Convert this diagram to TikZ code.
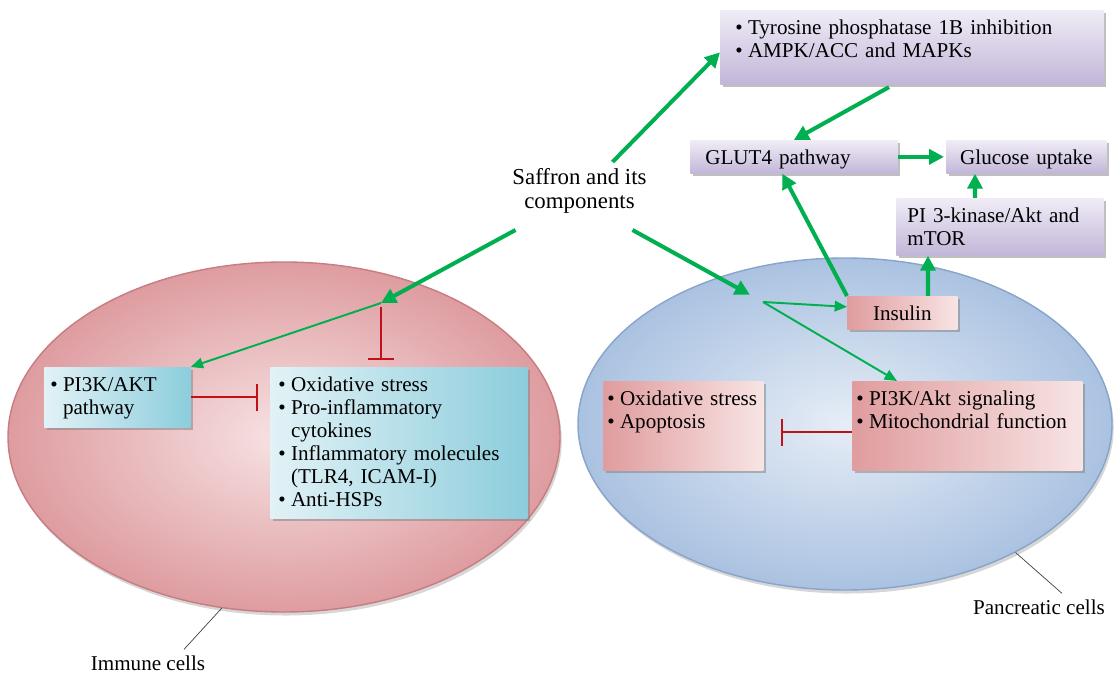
\documentclass[tikz,border=0pt]{standalone}
\usepackage{fontspec}
\setmainfont{Liberation Serif}
\usepackage{tikz}
\usetikzlibrary{arrows.meta,shapes.geometric,shadows}

\definecolor{sgreen}{RGB}{0,176,80}
\definecolor{ired}{RGB}{192,16,24}
\definecolor{purpL}{RGB}{240,236,246}
\definecolor{purpD}{RGB}{194,182,216}
\definecolor{pinkL}{RGB}{248,228,228}
\definecolor{pinkD}{RGB}{224,156,158}
\definecolor{cyanL}{RGB}{226,242,246}
\definecolor{cyanD}{RGB}{140,205,220}
\definecolor{redIn}{RGB}{247,226,227}
\definecolor{redOut}{RGB}{222,156,160}
\definecolor{redRim}{RGB}{200,124,128}
\definecolor{bluIn}{RGB}{230,237,246}
\definecolor{bluOut}{RGB}{170,194,225}
\definecolor{bluRim}{RGB}{136,164,202}

\newcommand{\bul}{\textbullet\hspace{3pt}}
\newcommand{\bulind}{\phantom{\textbullet\hspace{3pt}}}

\begin{document}
\begin{tikzpicture}[
    box/.style={rectangle, anchor=north west, inner ysep=0.17cm, text height=0.32cm, align=left,
        drop shadow={shadow xshift=1.5pt, shadow yshift=-1.5pt, fill=black!50, opacity=0.5}},
    purplebox/.style={box, top color=purpL, bottom color=purpD},
    pinkbox/.style={box, left color=pinkD, right color=pinkL},
    cyanbox/.style={box, left color=cyanL, right color=cyanD},
    cell/.style={ellipse, inner sep=0pt, line width=0.8pt,
        drop shadow={shadow xshift=1pt, shadow yshift=-2pt, fill=black!40, opacity=0.4}},
    gthick/.style={draw=sgreen, line width=2.3pt, -{Triangle[length=8.5pt,width=8.5pt]}},
    gthin/.style={draw=sgreen, line width=1.1pt, -{Triangle[length=7pt,width=6pt]}},
    stopbar/.style={draw=ired, line width=1.2pt, -{Bar[width=15pt]}},
    tag/.style={draw=black!75, line width=0.4pt},
    font=\fontsize{12}{13}\selectfont
]
\useasboundingbox (0,0) rectangle (22.3,13.5);

% cells
\node[cell, draw=redRim, inner color=redIn, outer color=redOut,
    minimum width=11.04cm, minimum height=7cm] (immcell) at (5.68,4.76) {};
\node[cell, draw=bluRim, inner color=bluIn, outer color=bluOut,
    minimum width=10.68cm, minimum height=6.64cm] (pancell) at (16.9,5.02) {};

\node (imm) at (2.96,0.24) {Immune cells};
\node (pan) at (20.78,1.36) {Pancreatic cells};
\draw[tag] (immcell.-110) -- ([xshift=0.72cm]imm.north);
\draw[tag] (pancell.-37) -- ([xshift=0.46cm]pan.north);

\node[align=center, font=\fontsize{13}{13.5}\selectfont] (saf) at (11.59,9.68) {Saffron and its\\components};

% top right
\node[purplebox, inner xsep=0.3cm, text width=7.06cm, text depth=0.82cm] (tyro) at (14.40,13.30)
    {\bul Tyrosine phosphatase 1B inhibition\\\bul AMPK/ACC and MAPKs};
\node[purplebox, inner xsep=0.3cm, text width=3.54cm, text depth=0cm] (glut) at (13.80,10.70) {GLUT4 pathway};
\node[purplebox, inner xsep=0.2cm, text width=2.80cm, text depth=0cm, align=center] (gluc) at (18.92,10.70) {Glucose uptake};
\node[purplebox, inner xsep=0.22cm, text width=3.70cm, text depth=0.48cm] (pik) at (17.92,9.54) {PI 3-kinase/Akt and\\mTOR};

% pancreatic cells
\node[pinkbox, inner xsep=0.2cm, text width=1.80cm, text depth=0cm, align=center] (ins) at (16.94,7.58) {Insulin};
\node[pinkbox, inner xsep=0.08cm, text width=3.04cm, text depth=1.12cm] (oxr) at (12.06,5.88)
    {\bul Oxidative stress\\\bul Apoptosis};
\node[pinkbox, inner xsep=0.08cm, text width=4.44cm, text depth=1.12cm] (pim) at (17.04,5.88)
    {\bul PI3K/Akt signaling\\\bul Mitochondrial function};

% immune cells
\node[cyanbox, inner xsep=0.12cm, text width=2.68cm, text depth=0.54cm] (pia) at (0.88,6.16)
    {\bul PI3K/AKT\\\bulind pathway};
\node[cyanbox, inner xsep=0.16cm, text width=4.82cm, text depth=2.36cm] (lst) at (5.40,6.16)
    {\bul Oxidative stress\\\bul Pro-inflammatory\\\bulind cytokines\\\bul Inflammatory molecules\\\bulind (TLR4, ICAM-I)\\\bul Anti-HSPs};

\coordinate (lbr) at (7.62,7.44);
\coordinate (rbr) at (15.26,7.46);

% arrows
\draw[gthick] ([shift={(0.66,0.58)}]saf.center) -- ([yshift=-0.1cm]tyro.west);
\draw[gthick, shorten <=0.1cm] ([xshift=-0.37cm]tyro.south) -- (glut.north);
\draw[gthick, shorten >=0.04cm] (glut.east) -- (gluc.west);
\draw[gthick] ([xshift=1.58cm]pik.north west) -- ([xshift=0.58cm]gluc.south west);
\draw[gthick] (ins.north west) -- ([xshift=-0.23cm]glut.south);
\draw[gthick] ([xshift=1.62cm]ins.north west) -- ([xshift=0.64cm]pik.south west);

\draw[gthick] ([shift={(-1.28,-0.78)}]saf.center) -- (lbr);
\draw[gthin] (lbr) -- (pia.north east);
\draw[stopbar, shorten <=0.08cm, shorten >=0.14cm] (lbr) -- (lbr |- lst.north);
\draw[stopbar, shorten >=0.24cm] (pia.east) -- (lst.west |- pia.east);

\draw[gthick, shorten >=0.3cm] ([shift={(1.06,-0.78)}]saf.center) -- (rbr);
\draw[gthin] (rbr) -- ([yshift=0.12cm]ins.west);
\draw[gthin] (rbr) -- ([xshift=0.9cm]pim.north west);
\draw[stopbar, shorten >=0.34cm] ([yshift=-0.13cm]pim.west) -- ([yshift=-0.13cm]oxr.east);

\end{tikzpicture}
\end{document}
